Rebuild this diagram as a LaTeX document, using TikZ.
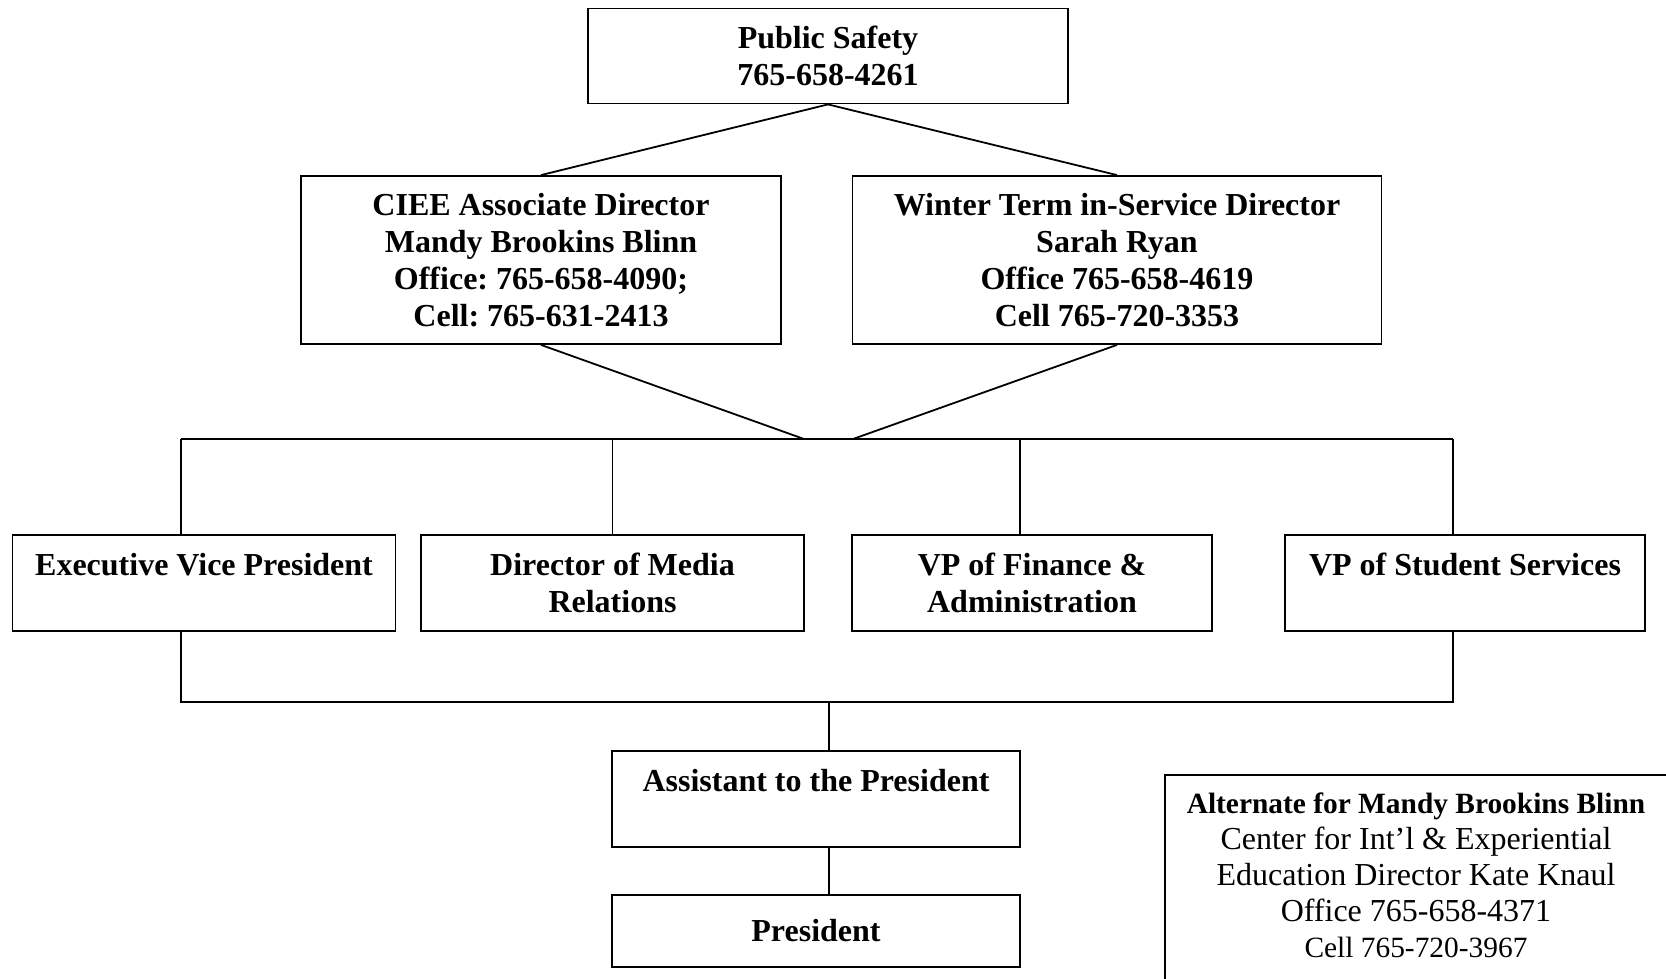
\documentclass[tikz,border=0pt]{standalone}
\usepackage{fontspec}
\setmainfont{Liberation Serif}
\frenchspacing
\begin{document}
\begin{tikzpicture}[x=0.5pt,y=-0.5pt,
  box/.style={draw, line width=0.9pt, align=center, inner sep=0pt,
    font=\bfseries\fontsize{16}{18.5}\selectfont},
  conn/.style={line width=0.9pt}]
\useasboundingbox (0,0) rectangle (1666,979);
\node[box, minimum width=240pt, minimum height=47.5pt] (ps) at (828,56) {Public Safety\\765-658-4261};
\node[box, minimum width=240pt, minimum height=84pt] (ciee) at (541,260) {CIEE Associate Director\\Mandy Brookins Blinn\\Office: 765-658-4090;\\Cell: 765-631-2413};
\node[box, minimum width=264.5pt, minimum height=84pt] (win) at (1117,260) {Winter Term in-Service Director\\Sarah Ryan\\Office 765-658-4619\\Cell 765-720-3353};
\node[box, minimum width=191.5pt, minimum height=47.75pt] (evp) at (204,583) {Executive Vice President\\\mbox{}};
\node[box, minimum width=191.5pt, minimum height=47.75pt] (dmr) at (612.5,583) {Director of Media\\Relations};
\node[box, minimum width=180pt, minimum height=47.75pt] (vpf) at (1032,583) {VP of Finance \&\\Administration};
\node[box, minimum width=180pt, minimum height=47.75pt] (vpss) at (1465,583) {VP of Student Services\\\mbox{}};
\node[box, minimum width=204pt, minimum height=48pt] (asst) at (816,799) {Assistant to the President\\\mbox{}};
\node[box, minimum width=204pt, minimum height=36pt] (pres) at (816,931) {President};
\node[draw, line width=0.9pt, inner sep=0pt, minimum width=251pt, minimum height=105pt] (alt) at (1416,880) {};
\node[align=center, inner sep=0pt, font=\fontsize{16}{18}\selectfont] (altt) at (1416,875)
  {{\bfseries\fontsize{14.7}{18}\selectfont Alternate for Mandy Brookins Blinn}\\Center for Int’l \& Experiential\\Education Director Kate Knaul\\Office 765-658-4371\\{\fontsize{14.7}{18}\selectfont Cell 765-720-3967}};
\coordinate (j1) at (804,439);
\coordinate (j2) at (853,439);
\coordinate (tl) at (181,439);
\coordinate (tr) at (1453,439);
\coordinate (tf) at (1020,439);
\coordinate (bl) at (181,702);
\coordinate (br) at (1453,702);
\coordinate (bm) at (829,702);
\draw[conn] (ps.south) -- (ciee.north);
\draw[conn] (ps.south) -- (win.north);
\draw[conn] (ciee.south) -- (j1);
\draw[conn] (win.south) -- (j2);
\draw[conn] (tl) -- (tr);
\draw[conn] (tl) -- (tl |- evp.north);
\draw[conn] (dmr.north) -- (dmr.north |- tl);
\draw[conn] (tf) -- (tf |- vpf.north);
\draw[conn] (tr) -- (tr |- vpss.north);
\draw[conn] (tl |- evp.south) -- (bl) -- (br) -- (tr |- vpss.south);
\draw[conn] (bm) -- (bm |- asst.north);
\draw[conn] (bm |- asst.south) -- (bm |- pres.north);
\end{tikzpicture}
\end{document}
